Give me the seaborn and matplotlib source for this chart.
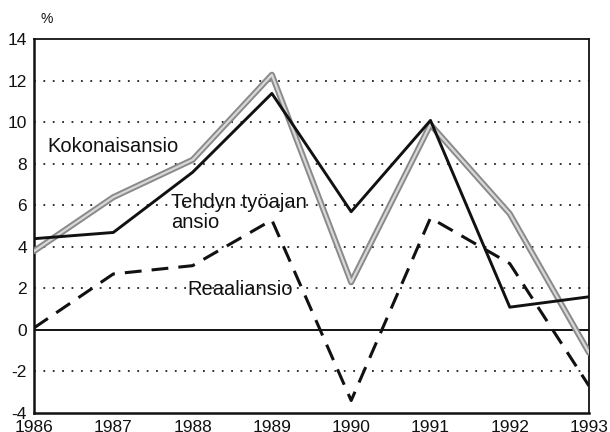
import matplotlib
matplotlib.use('Agg')
import matplotlib.pyplot as plt
import seaborn as sns
import pandas as pd

years = [1986, 1987, 1988, 1989, 1990, 1991, 1992, 1993]
kokonaisansio = [3.8, 6.4, 8.2, 12.3, 2.3, 9.9, 5.6, -1.1]
tehdyn_tyoajan_ansio = [4.4, 4.7, 7.6, 11.4, 5.7, 10.1, 1.1, 1.6]
reaaliansio = [0.1, 2.7, 3.1, 5.3, -3.4, 5.4, 3.2, -2.7]
y_ticks = [-4, -2, 0, 2, 4, 6, 8, 10, 12, 14]
grid_levels = [-2, 2, 4, 6, 8, 10, 12]

sns.set_style('white')
plt.rcParams['font.family'] = ['Liberation Sans', 'DejaVu Sans']
plt.rcParams['axes.unicode_minus'] = False

df = pd.DataFrame({'year': years, 'koko': kokonaisansio,
                   'tehdyn': tehdyn_tyoajan_ansio, 'reaali': reaaliansio})

fig = plt.figure(figsize=(6.1, 4.32), dpi=100)
ax = fig.add_axes([0.0557, 0.044, 0.91, 0.8646])

# dotted reference lines
for g in grid_levels:
    ax.axhline(g, color='#222222', lw=1.3, ls=(0, (1, 4.2)), zorder=1)
ax.axhline(0, color='black', lw=1.3, zorder=1)

# Kokonaisansio: grey double-edged line
sns.lineplot(data=df, x='year', y='koko', ax=ax, color='#8a8a8a', lw=4.4, zorder=3)
sns.lineplot(data=df, x='year', y='koko', ax=ax, color='#d8d8d8', lw=1.6, zorder=3)
sns.lineplot(data=df, x='year', y='tehdyn', ax=ax, color='#111111', lw=2.1, zorder=4)
sns.lineplot(data=df, x='year', y='reaali', ax=ax, color='#111111', lw=2.2,
             zorder=4, dashes=False)
ax.lines[-1].set_linestyle((0, (5.5, 3.3)))

ax.set_xlim(1986, 1993)
ax.set_ylim(-4, 14)
ax.set_xticks(years)
ax.set_yticks(y_ticks)
ax.set_xlabel('')
ax.set_ylabel('')
ax.tick_params(axis='x', direction='in', length=6, width=1.2, pad=5,
               labelsize=12.5, colors='#111111')
ax.tick_params(axis='y', length=0, pad=5, labelsize=12.5, colors='#111111')
for s in ax.spines.values():
    s.set_color('#111111')
    s.set_linewidth(1.3)
ax.spines['left'].set_linewidth(1.8)
ax.spines['bottom'].set_linewidth(1.8)

fs = 14.5
fig.text(0.066, 0.955, '%', fontsize=10, color='#111111', va='center')
ax.text(1986.17, 8.85, 'Kokonaisansio', fontsize=fs, color='#111111', va='center')
ax.text(1987.73, 6.15, 'Tehdyn työajan', fontsize=fs, color='#111111', va='center')
ax.text(1987.73, 5.2, 'ansio', fontsize=fs, color='#111111', va='center')
ax.text(1987.93, 1.93, 'Reaaliansio', fontsize=fs, color='#111111', va='center')

fig.savefig('out.png', dpi=100)
